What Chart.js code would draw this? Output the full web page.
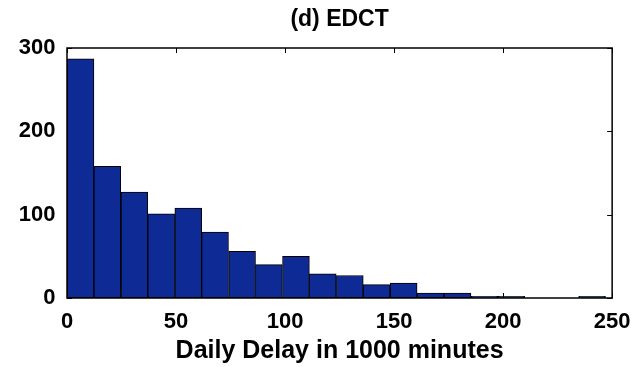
<!DOCTYPE html>
<html>
<head>
<meta charset="utf-8">
<script src="https://cdn.jsdelivr.net/npm/chart.js@4.4.1/dist/chart.umd.min.js"></script>
<style>
  html, body { margin: 0; padding: 0; background: #fff; }
  #grafico { display: block; }
</style>
</head>
<body>
<canvas id="grafico" width="641" height="367"></canvas>
<script>
/* histograma EDCT */

var binCenters = [6.2, 18.5, 30.9, 43.2, 55.6, 67.9, 80.3, 92.6, 105.0, 117.3,
                  129.7, 142.0, 154.4, 166.7, 179.1, 191.4, 203.8, 216.1, 228.5, 240.8];
var counts     = [287, 158, 127, 101, 108, 79, 56, 40, 50, 29,
                  27, 16, 18, 6, 6, 2, 2, 0, 0, 2];
var xTicks = [0, 50, 100, 150, 200, 250];
var yTicks = [0, 100, 200, 300];
var titulo  = "(d) EDCT";
var tituloX = "Daily Delay in 1000 minutes";

var fonte = "'Liberation Sans', Arial, sans-serif";

/* moldura + ticks para dentro (estilo matlab) */
var moldura = {
  id: "moldura",
  beforeDatasetsDraw: function (chart) {
    var a = chart.chartArea, ctx = chart.ctx;
    var sx = chart.scales.x, sy = chart.scales.y;
    var len = 5;
    ctx.save();
    ctx.strokeStyle = "#000";
    ctx.lineWidth = 1;
    ctx.beginPath();
    xTicks.forEach(function (v) {
      var px = Math.round(sx.getPixelForValue(v)) + 0.5;
      ctx.moveTo(px, a.top);    ctx.lineTo(px, a.top + len);
      ctx.moveTo(px, a.bottom); ctx.lineTo(px, a.bottom - len);
    });
    yTicks.forEach(function (v) {
      var py = Math.round(sy.getPixelForValue(v)) + 0.5;
      ctx.moveTo(a.left, py);  ctx.lineTo(a.left + len, py);
      ctx.moveTo(a.right, py); ctx.lineTo(a.right - len, py);
    });
    ctx.stroke();
    ctx.restore();
  },
  afterDatasetsDraw: function (chart) {
    var a = chart.chartArea, ctx = chart.ctx;
    ctx.save();
    ctx.strokeStyle = "#000";
    ctx.lineWidth = 1.5;
    ctx.strokeRect(a.left, a.top, a.right - a.left, a.bottom - a.top);
    ctx.restore();
  }
};

new Chart(document.getElementById("grafico"), {
  type: "bar",
  data: {
    datasets: [{
      data: binCenters.map(function (x, i) { return { x: x, y: counts[i] }; }),
      backgroundColor: "#0e2a94",
      borderColor: "#000",
      borderWidth: 1,
      borderSkipped: false,
      barPercentage: 1,
      categoryPercentage: 1
    }]
  },
  options: {
    responsive: false,
    animation: false,
    layout: { padding: { left: 0, right: 23, top: 0, bottom: 0 } },
    plugins: {
      legend: { display: false },
      tooltip: { enabled: false },
      title: {
        display: true,
        text: titulo,
        color: "#000",
        fullSize: false,
        font: { family: fonte, size: 23, weight: "bold", lineHeight: 1.2 },
        padding: { top: 5.5, bottom: 14.9 }
      }
    },
    scales: {
      x: {
        type: "linear",
        offset: false,
        min: 0, max: 250,
        afterBuildTicks: function (s) { s.ticks = xTicks.map(function (v) { return { value: v }; }); },
        afterFit: function (s) { s.height = 69; },
        grid: { display: false, drawTicks: false, offset: false },
        border: { display: false },
        ticks: { color: "#000", padding: 10.5, maxRotation: 0, font: { family: fonte, size: 22, weight: "bold" } },
        title: {
          display: true,
          text: tituloX,
          color: "#000",
          font: { family: fonte, size: 25, weight: "bold", lineHeight: 1.2 },
          padding: { top: 0, bottom: 0.5 }
        }
      },
      y: {
        min: 0, max: 300,
        afterBuildTicks: function (s) { s.ticks = yTicks.map(function (v) { return { value: v }; }); },
        afterFit: function (s) { s.width = 67; },
        grid: { display: false, drawTicks: false },
        border: { display: false },
        ticks: { color: "#000", padding: 11.5, font: { family: fonte, size: 22, weight: "bold" } }
      }
    }
  },
  plugins: [moldura]
});
</script>
</body>
</html>
